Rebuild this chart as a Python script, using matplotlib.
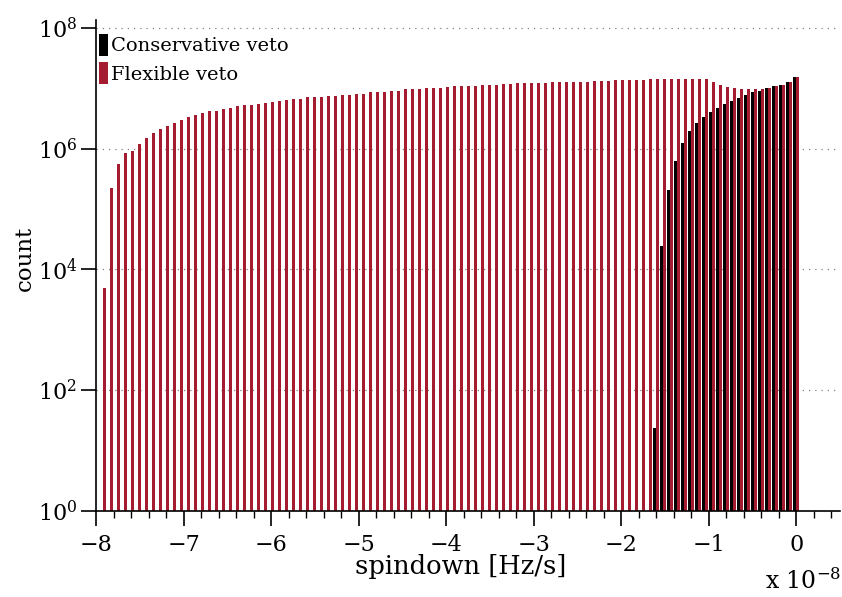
import matplotlib
matplotlib.use('Agg')
import matplotlib.pyplot as plt
from matplotlib.ticker import MultipleLocator, NullLocator
import numpy as np

plt.rcParams['font.family'] = ['DejaVu Serif']
plt.rcParams['mathtext.fontset'] = 'dejavuserif'

# bin centres of the spindown histogram, in units of 1e-8 Hz/s
spindown_bins = np.linspace(-7.92, 0.0, 100)

# log10(count) per bin
flexible_log = [
    3.69, 5.35, 5.74, 5.92, 5.96, 6.07, 6.18, 6.26, 6.33, 6.38,
    6.43, 6.48, 6.52, 6.56, 6.59, 6.62, 6.63, 6.65, 6.68, 6.71,
    6.72, 6.72, 6.74, 6.76, 6.78, 6.79, 6.81, 6.83, 6.83, 6.85,
    6.86, 6.86, 6.87, 6.87, 6.88, 6.89, 6.90, 6.91, 6.93, 6.93,
    6.94, 6.95, 6.96, 6.98, 6.98, 6.99, 7.00, 7.01, 7.01, 7.02,
    7.03, 7.03, 7.03, 7.04, 7.05, 7.05, 7.06, 7.07, 7.07, 7.08,
    7.08, 7.09, 7.09, 7.09, 7.10, 7.10, 7.10, 7.11, 7.11, 7.11,
    7.12, 7.12, 7.12, 7.13, 7.13, 7.13, 7.13, 7.14, 7.15, 7.15,
    7.15, 7.15, 7.16, 7.16, 7.16, 7.16, 7.16, 7.11, 7.06, 7.02,
    7.00, 6.99, 6.98, 6.98, 6.99, 7.00, 7.03, 7.06, 7.11, 7.19,
]
# conservative veto only has counts in the last 21 bins (-1.6 .. 0)
conservative_log = [
    1.36, 4.38, 5.32, 5.80, 6.10, 6.29, 6.42, 6.52, 6.61, 6.67,
    6.74, 6.79, 6.84, 6.88, 6.93, 6.96, 7.00, 7.03, 7.06, 7.11,
    7.19,
]

flexible_counts = 10 ** np.array(flexible_log)
conservative_counts = 10 ** np.array(conservative_log)
conservative_bins = spindown_bins[-len(conservative_log):]

fig = plt.figure(figsize=(8.42, 5.97), dpi=100)
ax = fig.add_axes([96 / 842, 86 / 597, 744 / 842, 491 / 597])
ax.set_yscale('log')

w = 0.032
ax.bar(conservative_bins - w / 2, conservative_counts, width=w, bottom=1,
       color='black', label='Conservative veto', zorder=2)
ax.bar(spindown_bins + w / 2, flexible_counts, width=w, bottom=1,
       color='#A51C30', label='Flexible veto', zorder=2)

ax.set_xlim(-8, 0.5)
ax.set_ylim(1, 10 ** 8.13)

ax.set_yticks([1e0, 1e2, 1e4, 1e6, 1e8])
ax.yaxis.set_minor_locator(NullLocator())
ax.xaxis.set_major_locator(MultipleLocator(1))
ax.xaxis.set_minor_locator(MultipleLocator(0.2))

ax.spines['top'].set_visible(False)
ax.spines['right'].set_visible(False)
for s in ('left', 'bottom'):
    ax.spines[s].set_linewidth(1.2)

ax.tick_params(which='major', direction='out', length=10.5, width=1.2,
               labelsize=16)
ax.tick_params(axis='x', which='major', pad=6)
ax.tick_params(axis='y', which='major', pad=3)
ax.tick_params(which='minor', direction='out', length=5, width=1.0)

ax.set_axisbelow(True)
ax.yaxis.grid(True, which='major', linestyle=(0, (1, 4)), color='0.5',
              linewidth=0.9)

ax.set_xlabel('spindown [Hz/s]', fontsize=18.5, va='baseline')
ax.xaxis.set_label_coords(0.49, -0.128)
ax.set_ylabel('count', fontsize=16.5, va='center')
ax.yaxis.set_label_coords(-0.095, 0.515)

fig.text(841 / 842, 3 / 597, r'x 10$^{-8}$', fontsize=17, ha='right',
         va='bottom')

ax.legend(loc='upper left', bbox_to_anchor=(0.004, 0.972), frameon=False,
          handlelength=0.45, handleheight=1.35, handletextpad=0.15,
          labelspacing=0.35, borderpad=0, borderaxespad=0, fontsize=14)

fig.savefig('out.png', dpi=100)
